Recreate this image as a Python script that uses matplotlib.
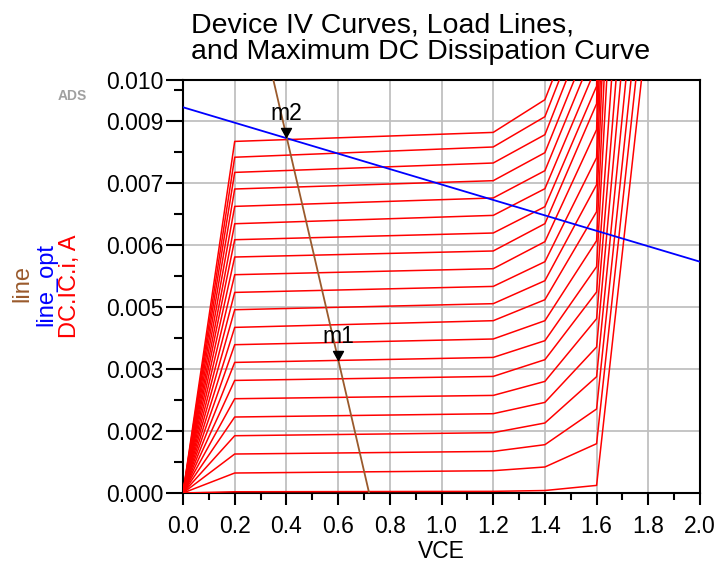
import matplotlib
matplotlib.use("Agg")
import matplotlib.pyplot as plt
from matplotlib.path import Path

plt.rcParams["font.family"] = ["Liberation Sans", "DejaVu Sans"]

# IV sweep points (VCE) and collector current per curve (A), bottom curve first
vce = [0.0, 0.2, 1.2, 1.4, 1.6, 1.8]
ic_v00 = [0.0] * 21
ic_v02 = [0.00003, 0.000484, 0.000944, 0.001387, 0.00184, 0.002283, 0.002726,
          0.003162, 0.003591, 0.00401, 0.004438, 0.004857, 0.005286, 0.005714,
          0.006133, 0.00652, 0.00694, 0.007361, 0.007763, 0.00813, 0.008513]
ic_v12 = [0.00004, 0.00054, 0.001007, 0.00146, 0.00192, 0.002363, 0.002823,
          0.003283, 0.003729, 0.004172, 0.004584, 0.005002, 0.005431, 0.00586,
          0.006295, 0.006722, 0.007143, 0.007562, 0.00799, 0.008378, 0.008731]
ic_v14 = [0.00006, 0.00063, 0.00117, 0.001695, 0.002194, 0.002702, 0.003228,
          0.003688, 0.004172, 0.00468, 0.00514, 0.0056, 0.006085, 0.006521,
          0.006932, 0.007368, 0.007804, 0.00824, 0.008676, 0.009111, 0.009523]
ic_v16 = [0.000184, 0.001194, 0.002034, 0.002816, 0.003535, 0.00422, 0.004867,
          0.00548, 0.00611, 0.006811, 0.007465, 0.008119, 0.008797, 0.009426,
          0.00985, 0.010334, 0.010845, 0.011339, 0.011847, 0.012307, 0.012743]
ic_v18 = [0.0115, 0.0128, 0.0140, 0.0155, 0.0174, 0.0196, 0.0226,
          0.0285, 0.033, 0.038, 0.043, 0.049, 0.055, 0.062,
          0.070, 0.105, 0.115, 0.125, 0.135, 0.145, 0.155]

# load lines
line_vce = [0.34, 0.72]
line_ic = [0.01026, 0.0]
opt_vce = [0.0, 2.0]
opt_ic = [0.00934, 0.00560]

# markers
mk_names = ["m1", "m2"]
mk_vce = [0.6, 0.4]
mk_ic = [0.00323, 0.00863]

xticks = [0.0, 0.2, 0.4, 0.6, 0.8, 1.0, 1.2, 1.4, 1.6, 1.8, 2.0]
yticks = [0.0, 0.0015, 0.003, 0.0045, 0.006, 0.0075, 0.009, 0.010]
ylabels = ["0.000", "0.002", "0.003", "0.005", "0.006", "0.007", "0.009", "0.010"]
yminor = [0.00075, 0.00225, 0.00375, 0.00525, 0.00675, 0.00825, 0.00975]
xminor = [0.1, 0.3, 0.5, 0.7, 0.9, 1.1, 1.3, 1.5, 1.7, 1.9]

BROWN = "#9a5a2c"
fig = plt.figure(figsize=(7.17, 5.78), dpi=100)
ax = fig.add_axes([183/717, 85/578, 517/717, 413/578])
ax.set_xlim(0, 2.0); ax.set_ylim(0, 0.010)

curves = list(zip(ic_v00, ic_v02, ic_v12, ic_v14, ic_v16, ic_v18))
for ic in curves:
    ax.plot(vce, ic, color="#ff0000", lw=1.1, zorder=3)
ax.plot(opt_vce, opt_ic, color="#0000ff", lw=1.3, zorder=4)
ax.plot(line_vce, line_ic, color=BROWN, lw=1.3, zorder=4)

# ADS style marker: down triangle with tip on the point
tri = Path([(-0.55, 1.0), (0.55, 1.0), (0.0, 0.0), (-0.55, 1.0)],
           [Path.MOVETO, Path.LINETO, Path.LINETO, Path.CLOSEPOLY])
for name, x, yv in zip(mk_names, mk_vce, mk_ic):
    ax.plot([x], [yv], marker=tri, ms=13, color="black", ls="none", zorder=6)
    ax.annotate(name, (x, yv), xytext=(0, 12), textcoords="offset points",
                ha="center", va="baseline", fontsize=16.5, zorder=6)

ax.set_xticks(xticks)
ax.set_xticklabels([f"{v:.1f}" for v in xticks])
ax.set_xticks(xminor, minor=True)
ax.set_yticks(yticks)
ax.set_yticklabels(ylabels)
ax.set_yticks(yminor, minor=True)
ax.grid(True, which="major", color="#c0c0c0", lw=1.3, zorder=0)
ax.set_axisbelow(True)
ax.tick_params(axis="y", which="major", length=12, width=1.5, pad=2, labelsize=16.5)
ax.tick_params(axis="y", which="minor", length=6.5, width=1.5)
ax.tick_params(axis="x", which="major", length=8.5, width=1.5, pad=7, labelsize=16.5)
ax.tick_params(axis="x", which="minor", length=4.7, width=1.5)
for s in ax.spines.values():
    s.set_linewidth(1.5); s.set_color("black")

ax.set_xlabel("VCE", fontsize=16.5, labelpad=2)

# stacked colored y labels
fig.text(22/717, 1 - 284/578, "line", color=BROWN, rotation=90, ha="center", va="center", fontsize=17)
fig.text(46/717, 1 - 284/578, "line_opt", color="#0000ff", rotation=90, ha="center", va="center", fontsize=17)
fig.text(70/717, 1 - 286/578, "DC.IC.i, A", color="#ff0000", rotation=90, ha="center", va="center", fontsize=17)

fig.text(72/717, 1 - 96/578, "ADS", color="#a0a0a0", fontsize=10, fontweight="bold", ha="center", va="center")

fig.text(191/717, 1 - 12/578, "Device IV Curves, Load Lines,\nand Maximum DC Dissipation Curve",
         ha="left", va="top", fontsize=20.5, linespacing=1.05)

fig.savefig("out.png", dpi=100, facecolor="white")
